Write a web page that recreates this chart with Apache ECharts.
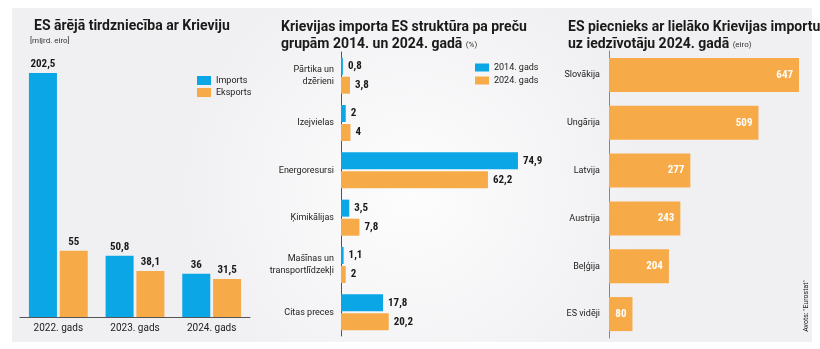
<!DOCTYPE html>
<html><head><meta charset="utf-8">
<script src="https://cdn.jsdelivr.net/npm/echarts@6/dist/echarts.min.js"></script>
<style>html,body{margin:0;padding:0;background:#fff}#c{width:820px;height:349px}</style>
</head><body><div id="c"></div>
<script>
const years = ['2022. gads', '2023. gads', '2024. gads'];
const importsVals = [202.5, 50.8, 36];
const exportsVals = [55, 38.1, 31.5];

const groups = ['Pārtika un\ndzērieni', 'Izejvielas', 'Energoresursi', 'Ķimikālijas', 'Mašīnas un\ntransportlīdzekļi', 'Citas preces'];
const share2014 = [0.8, 2, 74.9, 3.5, 1.1, 17.8];
const share2024 = [3.8, 4, 62.2, 7.8, 2, 20.2];

const countries = ['Slovākija', 'Ungārija', 'Latvija', 'Austrija', 'Beļģija', 'ES vidēji'];
const perCapita = [647, 509, 277, 243, 204, 80];

const BLUE = '#0aa6e6', ORANGE = '#f7ab48';
const numFont = '"Roboto Condensed","DejaVu Sans Condensed",sans-serif';
const fmt = p => String(p.value).replace('.', ',');
const valLabel = {show: true, formatter: fmt, fontFamily: numFont, fontWeight: 'bold', fontSize: 11, color: '#1a1a1a'};
const titleFont = 'Roboto, "Noto Sans", sans-serif';

const chart = echarts.init(document.getElementById('c'), null, {renderer: 'canvas'});
chart.setOption({
  animation: false,
  backgroundColor: '#ffffff',
  graphic: [
    {type: 'rect', z: -10, shape: {x: 12, y: 8, width: 800, height: 334},
     style: {fill: new echarts.graphic.RadialGradient(0.5, 0.55, 0.7, [{offset: 0, color: '#fdfdfe'}, {offset: 1, color: '#f0f0f2'}])}},
    {type: 'text', left: 30, top: 37, style: {text: '[mljrd. eiro]', fontSize: 8, fill: '#333', fontFamily: titleFont}},
    {type: 'text', x: 806, y: 306, rotation: Math.PI / 2, style: {text: 'Avots: "Eurostat"', fontSize: 7, fill: '#222', fontFamily: titleFont, align: 'center', verticalAlign: 'middle'}}
  ],
  title: [
    {left: 29, top: 14, text: 'ES ārējā tirdzniecība ar Krieviju', textStyle: {fontFamily: titleFont, fontSize: 14, fontWeight: 'bold', color: '#1a1a1a'}},
    {left: 276, top: 14, text: 'Krievijas importa ES struktūra pa preču\ngrupām 2014. un 2024. gadā {s|(%)}',
     textStyle: {fontFamily: titleFont, fontSize: 14, fontWeight: 'bold', color: '#1a1a1a', lineHeight: 17, rich: {s: {fontSize: 8, fontWeight: 'normal', color: '#333', fontFamily: titleFont}}}},
    {left: 563, top: 14, text: 'ES piecnieks ar lielāko Krievijas importu\nuz iedzīvotāju 2024. gadā {s|(eiro)}',
     textStyle: {fontFamily: titleFont, fontSize: 14, fontWeight: 'bold', color: '#1a1a1a', lineHeight: 17, rich: {s: {fontSize: 8, fontWeight: 'normal', color: '#333', fontFamily: titleFont}}}}
  ],
  legend: [
    {left: 192, top: 71, orient: 'vertical', itemWidth: 14, itemHeight: 9, itemGap: 3, data: ['Imports', 'Eksports'],
     textStyle: {fontSize: 9, color: '#222', fontFamily: titleFont}, icon: 'rect'},
    {left: 470, top: 58, orient: 'vertical', itemWidth: 14, itemHeight: 8, itemGap: 4, data: ['2014. gads', '2024. gads'],
     textStyle: {fontSize: 9, color: '#222', fontFamily: titleFont}, icon: 'rect'}
  ],
  grid: [
    {left: 20, width: 230, top: 64, height: 253},
    {left: 341, width: 189, top: 52, height: 284},
    {left: 609, width: 190, top: 51, height: 287}
  ],
  xAxis: [
    {gridIndex: 0, type: 'category', data: years, axisTick: {show: false},
     axisLine: {lineStyle: {color: '#555', width: 1}}, axisLabel: {fontSize: 10, color: '#222', margin: 6, fontFamily: titleFont}},
    {gridIndex: 1, type: 'value', min: 0, max: 80, show: false},
    {gridIndex: 2, type: 'value', min: 0, max: 647, show: false}
  ],
  yAxis: [
    {gridIndex: 0, type: 'value', min: 0, max: 210, show: false},
    {gridIndex: 1, type: 'category', data: groups, inverse: true, axisTick: {show: false},
     axisLine: {lineStyle: {color: '#555'}}, axisLabel: {fontSize: 9, color: '#222', margin: 7, lineHeight: 12, fontFamily: titleFont}},
    {gridIndex: 2, type: 'category', data: countries, inverse: true, axisTick: {show: false},
     axisLine: {lineStyle: {color: '#888'}}, axisLabel: {fontSize: 9, color: '#222', margin: 9, fontFamily: titleFont}}
  ],
  series: [
    {name: 'Imports', type: 'bar', xAxisIndex: 0, yAxisIndex: 0, data: importsVals, itemStyle: {color: BLUE},
     barWidth: 28, barGap: '10%', label: Object.assign({position: 'top', distance: 3}, valLabel)},
    {name: 'Eksports', type: 'bar', xAxisIndex: 0, yAxisIndex: 0, data: exportsVals, itemStyle: {color: ORANGE},
     barWidth: 28, barGap: '10%', label: Object.assign({position: 'top', distance: 3}, valLabel)},
    {name: '2014. gads', type: 'bar', xAxisIndex: 1, yAxisIndex: 1, data: share2014, itemStyle: {color: BLUE},
     barWidth: 17, barGap: '12%', label: Object.assign({position: 'right', distance: 5}, valLabel)},
    {name: '2024. gads', type: 'bar', xAxisIndex: 1, yAxisIndex: 1, data: share2024, itemStyle: {color: ORANGE},
     barWidth: 17, barGap: '12%', label: Object.assign({position: 'right', distance: 5}, valLabel)},
    {name: 'perCapita', type: 'bar', xAxisIndex: 2, yAxisIndex: 2, data: perCapita, itemStyle: {color: ORANGE},
     barWidth: 34, label: Object.assign({}, valLabel, {position: 'insideRight', distance: 6, color: '#fff'})}
  ]
});
</script></body></html>
